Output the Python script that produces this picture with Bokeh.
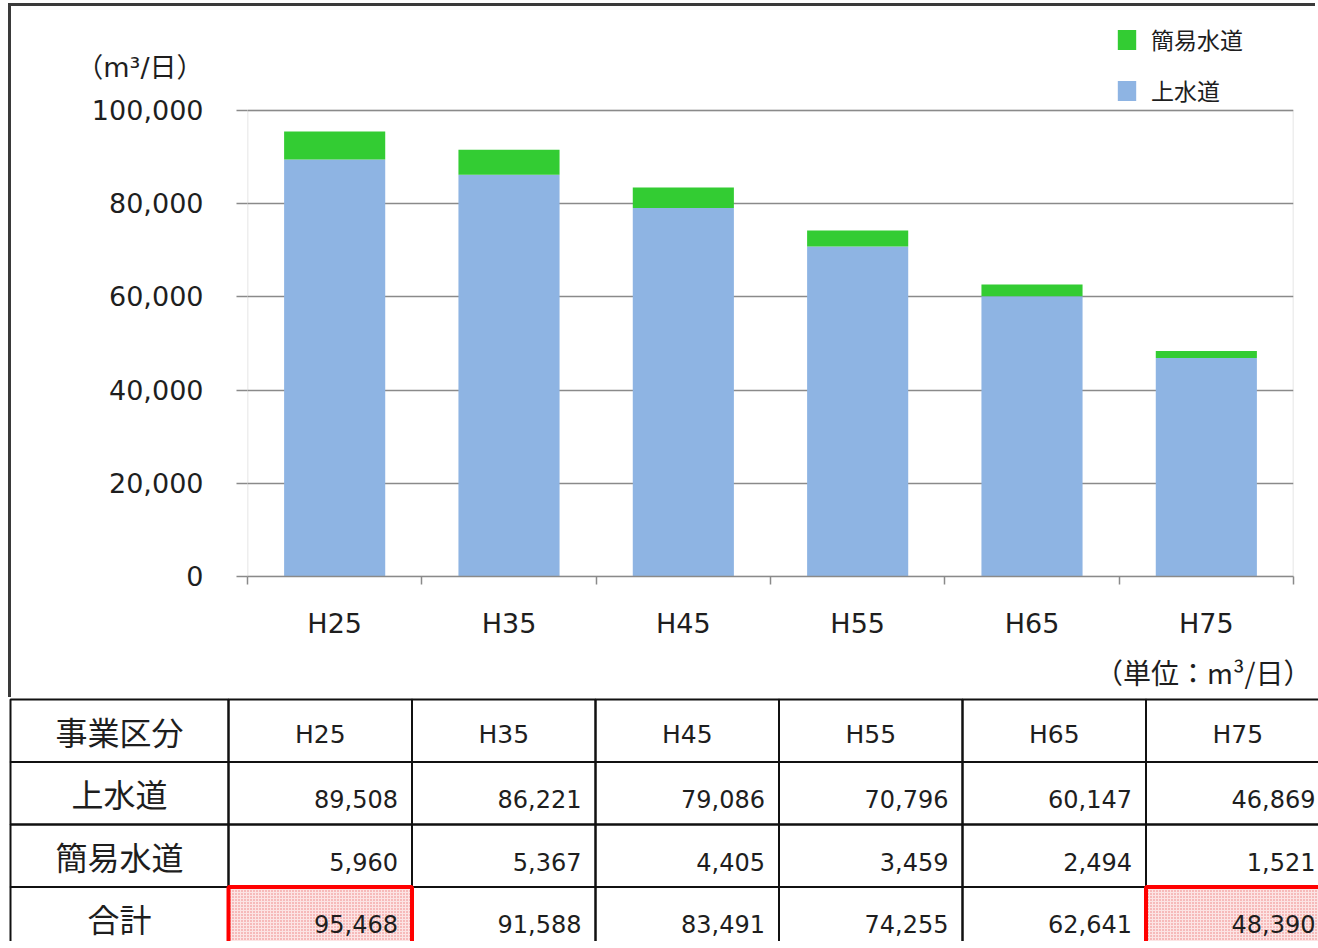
from bokeh.plotting import figure
from bokeh.models import (Range1d, FixedTicker, NumeralTickFormatter, Legend,
                          LegendItem, ColumnDataSource, BoxAnnotation, LinearAxis)
from bokeh.embed import file_html
from bokeh.resources import INLINE
from bokeh.core.properties import value

# ---------------- data ----------------
years = ["H25", "H35", "H45", "H55", "H65", "H75"]
jousui = [89508, 86221, 79086, 70796, 60147, 46869]     # 上水道
kani = [5960, 5367, 4405, 3459, 2494, 1521]              # 簡易水道
totals = [95468, 91588, 83491, 74255, 62641, 48390]      # 合計
series_names = ["上水道", "簡易水道"]
row_labels = ["事業区分", "上水道", "簡易水道", "合計"]
y_ticks = [0, 20000, 40000, 60000, 80000, 100000]
y_max = 100000
highlight_years = ["H25", "H75"]
unit_axis = "（m³/日）"
unit_table = "（単位：m³/日）"

# ---------------- style / layout ----------------
LAT = "DejaVu Sans"
JP = "Noto Sans CJK JP"
MIX = "DejaVu Sans, Noto Sans CJK JP"
TXT = "#1e1e1e"
GRID = "#8a8a8a"
BLUE = "#8EB4E3"
GREEN = "#33CC33"

ORG_X, ORG_Y = 11, 6          # page position of the chart canvas (after css border)
TOP_W, TOP_H = 1318 - ORG_X, 700 - ORG_Y
FRAME_L, FRAME_R, FRAME_B = 247, 1293, 576   # page px of the plot area
PX_PER_UNIT = 93.2 / 20000
frame_h = FRAME_B - ORG_Y
y_end = frame_h / PX_PER_UNIT
TAB_H = 244

n = len(years)
xc = [i + 0.5 for i in range(n)]
src = ColumnDataSource(dict(x=xc, year=years, jousui=jousui, kani=kani))

# ---------------- chart ----------------
p = figure(width=TOP_W, height=TOP_H, x_range=Range1d(0, n), y_range=Range1d(0, y_end),
           output_backend="svg", toolbar_location=None,
           min_border_left=FRAME_L - ORG_X, min_border_right=1318 - FRAME_R,
           min_border_top=0, min_border_bottom=TOP_H - frame_h)
p.styles = {"margin-left": "8px", "margin-top": "3px",
            "border-top": "3px solid #3a3a3a", "border-left": "3px solid #3a3a3a"}
p.outline_line_color = None

rs = p.vbar_stack(["jousui", "kani"], x="x", width=0.58, color=[BLUE, GREEN],
                  line_color=None, source=src)

p.xgrid.visible = False
p.ygrid.ticker = FixedTicker(ticks=y_ticks)
p.ygrid.grid_line_color = GRID
p.ygrid.grid_line_width = 1.3

# plot-area border
p.add_layout(BoxAnnotation(left=0, right=n, bottom=0, top=y_max, fill_alpha=0,
                           line_color=GRID, line_width=1.5, level="underlay"))

unit_tick = y_max * 1.092
ya = p.yaxis[0]
ya.ticker = FixedTicker(ticks=y_ticks + [unit_tick], minor_ticks=y_ticks)
ya.formatter = NumeralTickFormatter(format="0,0")
ya.major_label_overrides = {unit_tick: unit_axis}
ya.axis_line_color = None
ya.major_tick_line_color = None
ya.major_tick_out = 0
ya.major_tick_in = 0
ya.minor_tick_line_color = GRID
ya.minor_tick_line_width = 1.5
ya.minor_tick_out = 11
ya.minor_tick_in = 0
ya.major_label_standoff = 33
ya.major_label_text_font = MIX
ya.major_label_text_font_size = "27px"
ya.major_label_text_color = TXT

xa = p.xaxis[0]
xa.ticker = FixedTicker(ticks=xc, minor_ticks=list(range(n + 1)))
xa.major_label_overrides = {x: y for x, y in zip(xc, years)}
xa.axis_line_color = GRID
xa.axis_line_width = 1.5
xa.major_tick_line_color = None
xa.major_tick_out = 0
xa.major_tick_in = 0
xa.minor_tick_line_color = GRID
xa.minor_tick_line_width = 1.5
xa.minor_tick_out = 8
xa.minor_tick_in = 0
xa.major_label_standoff = 23
xa.major_label_text_font = LAT
xa.major_label_text_font_size = "27px"
xa.major_label_text_color = TXT

# unit note under the category labels (second bottom axis, label only)
unit_pos = 5.482
ua = LinearAxis(ticker=FixedTicker(ticks=[unit_pos]),
                major_label_overrides={unit_pos: unit_table},
                axis_line_color=None, major_tick_line_color=None,
                minor_tick_line_color=None, major_tick_out=0, major_tick_in=0,
                major_label_standoff=10, major_label_text_font=JP,
                major_label_text_font_size="28px", major_label_text_color=TXT)
p.add_layout(ua, "below")

legend = Legend(items=[LegendItem(label=series_names[1], renderers=[rs[1]]),
                       LegendItem(label=series_names[0], renderers=[rs[0]])],
                location=(868, 469), orientation="vertical",
                border_line_color=None, background_fill_alpha=0,
                padding=0, margin=0, spacing=17,
                glyph_width=23, glyph_height=25, label_height=25,
                label_standoff=13, label_text_font=JP,
                label_text_font_size="23px", label_text_color=TXT)
p.add_layout(legend)

# ---------------- table ----------------
COL0 = 228          # page x of first value column
COL_W = 183.5
ROW_H = 62.5
t = figure(width=1318, height=TAB_H,
           x_range=Range1d(-COL0 / COL_W, (1318 - COL0) / COL_W),
           y_range=Range1d(TAB_H / ROW_H - 0.03, -0.03), output_backend="svg",
           toolbar_location=None, min_border=0)
t.axis.visible = False
t.grid.visible = False
t.outline_line_color = None

LCOL_L = (10 - COL0) / COL_W  # left edge of the label column (column units)

hx = [years.index(h) + 0.5 for h in highlight_years]
tot_row = row_labels.index("合計") + 0.5
t.rect(x=hx, y=[tot_row] * len(hx), width=1.0, height=1.0, fill_color="#fce4e4",
       hatch_pattern="dot", hatch_color="#ec7a7a", hatch_scale=3, hatch_weight=1,
       line_color=None)

cx, cy, cw = [], [], []
for r in range(len(row_labels)):
    cx.append(LCOL_L / 2); cy.append(r + 0.5); cw.append(-LCOL_L)
    for i in range(n):
        cx.append(i + 0.5); cy.append(r + 0.5); cw.append(1.0)
t.rect(x=cx, y=cy, width=cw, height=1.0, fill_color=None, line_color="#111111",
       line_width=2)

t.rect(x=hx, y=[tot_row] * len(hx), width=1.0, height=1.0, fill_color=None,
       line_color="#ff0000", line_width=4)

t.text(x=[LCOL_L / 2] * len(row_labels), y=[r + 0.5 for r in range(len(row_labels))],
       text=row_labels, text_align="center", text_baseline="middle",
       text_font=value(JP), text_font_size="32px", text_color=TXT)

t.text(x=xc, y=[0.56] * n, text=years, text_align="center", text_baseline="middle",
       text_font=value(LAT), text_font_size="25px", text_color=TXT)

pad = 14 / COL_W
vals_x, vals_y, vals_t = [], [], []
for r, row in enumerate([jousui, kani, totals], start=1):
    for i, v in enumerate(row):
        vals_x.append(i + 1 - pad)
        vals_y.append(r + 0.6)
        vals_t.append(f"{v:,}")
t.text(x=vals_x, y=vals_y, text=vals_t, text_align="right", text_baseline="middle",
       text_font=value(LAT), text_font_size="24px", text_color=TXT)

open("out.html", "w").write(file_html([p, t], INLINE))
